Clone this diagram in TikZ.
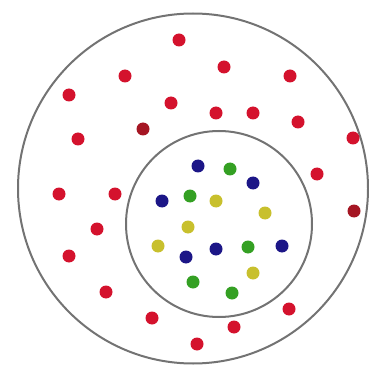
\documentclass[tikz,border=0pt]{standalone}
\begin{document}
\begin{tikzpicture}[x=1pt,y=-1pt,
  ring/.style={draw=ringgray,line width=2pt},
  dotbase/.style={circle,inner sep=0pt,minimum size=13pt,draw=none},
  reddot/.style={dotbase,fill=dotred},
  darkred/.style={dotbase,fill=dotdarkred},
  bluedot/.style={dotbase,fill=dotblue},
  greendot/.style={dotbase,fill=dotgreen},
  yellowdot/.style={dotbase,fill=dotyellow}]
\definecolor{ringgray}{RGB}{115,115,115}
\definecolor{dotred}{RGB}{212,18,45}
\definecolor{dotdarkred}{RGB}{165,22,35}
\definecolor{dotblue}{RGB}{28,22,135}
\definecolor{dotgreen}{RGB}{52,160,35}
\definecolor{dotyellow}{RGB}{200,192,45}
\useasboundingbox (0,0) rectangle (369,366);
\node[circle,ring,minimum size=350pt,inner sep=0pt] (outer) at (193,188.5) {};
\node[circle,ring,minimum size=186pt,inner sep=0pt] (inner) at (219,224) {};
\foreach \x/\y [count=\i] in {179/40,125/76,69/95,224/67,290/76,171/103,216/113,253/113,298/122,78/139,353/138,317/174,59/194,115/194,97/229,69/256,106/292,152/318,289/309,234/327,197/344}
  \node[reddot] (r\i) at (\x,\y) {};
\node[darkred] (d1) at (143,129) {};
\node[darkred] (d2) at (354,211) {};
\foreach \x/\y [count=\i] in {198/166,253/183,162/201,186/257,216/249,282/246}
  \node[bluedot] (b\i) at (\x,\y) {};
\foreach \x/\y [count=\i] in {230/169,190/196,248/247,193/282,232/293}
  \node[greendot] (g\i) at (\x,\y) {};
\foreach \x/\y [count=\i] in {216/201,265/213,188/227,158/246,253/273}
  \node[yellowdot] (y\i) at (\x,\y) {};
\end{tikzpicture}
\end{document}
